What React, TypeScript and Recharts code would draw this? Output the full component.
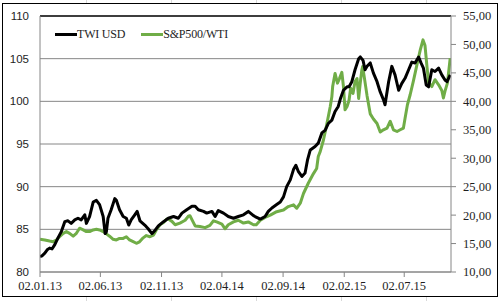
import React from "react";
import { LineChart, Line, XAxis, YAxis, CartesianGrid, ReferenceLine } from "recharts";

// Days since 02.01.2013
const twiDays = [0, 5, 12, 18, 24, 30, 37, 45, 53, 62, 70, 78, 87, 95, 103, 112, 116, 124, 133, 141, 149, 158, 163, 166, 170, 178, 187, 191, 199, 208, 216, 222, 228, 237, 243, 250, 262, 270, 280, 288, 296, 309, 321, 334, 346, 355, 367, 380, 388, 396, 409, 417, 430, 438, 446, 459, 471, 484, 496, 509, 521, 534, 538, 551, 563, 571, 580, 592, 601, 609, 617, 626, 634, 640, 646, 655, 663, 669, 676, 688, 696, 705, 713, 721, 730, 738, 746, 752, 759, 768, 773, 780, 788, 797, 801, 808, 813, 818, 826, 834, 843, 851, 859, 863, 872, 880, 888, 897, 905, 913, 922, 930, 938, 947, 953, 959, 966, 972, 980, 988, 997, 1005, 1013, 1018, 1026];
const twiValues = [81.8, 81.9, 82.2, 82.6, 82.8, 82.7, 83.2, 84.0, 84.7, 85.9, 86.0, 85.7, 86.1, 86.3, 86.1, 86.7, 85.7, 86.5, 88.2, 88.4, 87.9, 86.5, 84.5, 84.7, 86.3, 87.3, 88.6, 88.4, 87.3, 86.5, 86.3, 85.5, 86.1, 86.7, 87.1, 86.0, 85.5, 85.1, 84.5, 84.9, 85.4, 85.9, 86.3, 86.5, 86.3, 86.9, 87.3, 87.7, 87.7, 87.3, 87.1, 86.9, 87.1, 86.5, 87.2, 86.9, 86.5, 86.3, 86.5, 86.7, 87.1, 86.6, 86.5, 86.2, 86.5, 87.1, 87.5, 87.9, 88.2, 88.8, 90.0, 90.8, 92.0, 92.5, 91.8, 91.2, 91.6, 93.1, 94.3, 94.7, 95.1, 96.3, 96.6, 97.4, 97.8, 98.8, 99.4, 100.4, 101.3, 101.7, 101.7, 102.3, 103.7, 105.0, 105.2, 104.8, 103.7, 104.1, 104.5, 103.3, 102.3, 101.1, 100.2, 99.6, 102.3, 104.1, 103.1, 101.3, 102.1, 102.7, 103.7, 104.6, 104.5, 105.2, 104.5, 103.9, 101.9, 101.7, 103.7, 103.5, 103.9, 103.1, 102.5, 102.3, 103.1];

const spDays = [0, 12, 24, 33, 41, 49, 58, 66, 74, 83, 91, 99, 108, 116, 124, 133, 141, 149, 158, 166, 174, 183, 191, 199, 208, 216, 224, 233, 241, 249, 258, 266, 275, 284, 292, 300, 309, 317, 321, 330, 338, 350, 363, 371, 375, 380, 388, 400, 413, 425, 434, 442, 455, 463, 471, 484, 496, 509, 521, 534, 541, 551, 563, 576, 592, 609, 621, 634, 642, 651, 659, 671, 684, 692, 696, 701, 709, 716, 721, 726, 730, 732, 738, 744, 749, 755, 759, 763, 768, 773, 777, 783, 788, 793, 797, 801, 805, 807, 811, 818, 826, 834, 843, 851, 859, 868, 876, 884, 893, 901, 909, 913, 919, 926, 934, 943, 951, 958, 963, 968, 972, 980, 988, 997, 1005, 1009, 1013, 1019, 1026];
const spValues = [15.75, 15.63, 15.45, 15.33, 15.63, 16.2, 16.8, 17.1, 16.8, 16.3, 16.8, 17.7, 17.4, 17.1, 17.1, 17.4, 17.5, 17.4, 17.1, 16.7, 16.3, 15.75, 15.63, 15.9, 15.9, 16.2, 15.63, 15.33, 15.05, 15.3, 16.0, 16.4, 16.2, 16.5, 17.5, 18.3, 18.7, 19.3, 19.3, 18.9, 18.3, 18.6, 19.1, 19.8, 19.9, 19.2, 18.1, 18.0, 17.8, 18.2, 19.0, 18.8, 18.4, 17.6, 18.3, 18.8, 19.1, 18.6, 18.8, 18.3, 18.3, 19.1, 19.6, 20.0, 20.6, 20.9, 21.5, 21.8, 21.2, 22.1, 23.8, 25.6, 27.3, 28.2, 30.3, 31.2, 33.2, 35.5, 37.3, 39.1, 40.8, 42.6, 44.9, 43.2, 44.0, 45.1, 42.6, 38.5, 39.1, 40.2, 42.3, 41.4, 43.5, 44.0, 40.5, 43.2, 45.5, 46.1, 44.3, 41.0, 37.8, 36.9, 36.1, 34.6, 35.0, 35.3, 36.5, 35.0, 34.7, 35.0, 35.3, 37.0, 39.4, 41.2, 43.6, 46.5, 49.0, 50.8, 49.8, 46.0, 43.3, 42.6, 43.8, 42.9, 41.9, 40.6, 41.8, 43.2, 47.6];

const xTicks = [0, 151, 304, 455, 608, 761, 911];
const xTickLabels = ["02.01.13", "02.06.13", "02.11.13", "02.04.14", "02.09.14", "02.02.15", "02.07.15"];
const leftTicks = [80, 85, 90, 95, 100, 105, 110];
const rightTicks = [10, 15, 20, 25, 30, 35, 40, 45, 50, 55];
const seriesNames = ["TWI USD", "S&P500/WTI"];

const twiData = twiDays.map((d, i) => ({ d, v: twiValues[i] }));
const spData = spDays.map((d, i) => ({ d, v: spValues[i] }));

const BLACK = "#000000";
const GREEN = "#70AD47";
const AXIS = "#868686";
const TEXT = "#1e1e1e";
const SERIF = "'Liberation Serif', serif";
const SANS = "'Liberation Sans', sans-serif";

const cellCols = [86.5, 171.5, 256.5, 341.5, 426.5];

export default function App() {
  return (
    <div style={{ position: "absolute", left: 0, top: 0, width: 501, height: 301, background: "#fff" }}>
      <svg width={501} height={301} style={{ position: "absolute", left: 0, top: 0 }}>
        {cellCols.map((x) => (
          <g key={x}>
            <line x1={x} x2={x} y1={0} y2={3} stroke="#d9d9d9" strokeWidth={1} />
            <line x1={x} x2={x} y1={297} y2={301} stroke="#d9d9d9" strokeWidth={1} />
          </g>
        ))}
      </svg>
      <div
        style={{
          position: "absolute",
          left: 2,
          top: 3,
          width: 494,
          height: 292,
          border: "1.5px solid #000",
        }}
      />
      <div style={{ position: "absolute", left: 0, top: 0 }}>
        <LineChart width={501} height={301} margin={{ top: 16, right: 0, bottom: 0, left: 0 }}>
          <CartesianGrid yAxisId="left" vertical={false} stroke={AXIS} strokeWidth={1} />
          <XAxis
            dataKey="d"
            type="number"
            domain={[0, 1028]}
            ticks={xTicks}
            tickFormatter={(v: number) => xTickLabels[xTicks.indexOf(v)] ?? ""}
            height={29}
            allowDataOverflow
            axisLine={{ stroke: AXIS }}
            tickLine={{ stroke: AXIS }}
            tickSize={5}
            tickMargin={4}
            tick={{ fill: TEXT, fontFamily: SERIF, fontSize: 12.5 }}
            interval={0}
          />
          <YAxis
            yAxisId="left"
            orientation="left"
            domain={[80, 110]}
            ticks={leftTicks}
            width={40}
            axisLine={{ stroke: AXIS }}
            tickLine={false}
            tickSize={0}
            tickMargin={11}
            tick={{ fill: TEXT, fontFamily: SANS, fontSize: 11.5 }}
            interval={0}
          />
          <YAxis
            yAxisId="right"
            orientation="right"
            domain={[10, 55]}
            ticks={rightTicks}
            width={50}
            axisLine={{ stroke: AXIS }}
            tickLine={{ stroke: AXIS }}
            tickSize={5}
            tickMargin={7}
            tickFormatter={(v: number) => v.toFixed(2).replace(".", ",")}
            tick={{ fill: TEXT, fontFamily: SERIF, fontSize: 12.5 }}
            interval={0}
          />
          <ReferenceLine yAxisId="left" y={110} stroke="#111" strokeWidth={1.5} />
          <Line
            yAxisId="right"
            data={spData}
            dataKey="v"
            name={seriesNames[1]}
            stroke={GREEN}
            strokeWidth={3}
            dot={false}
            type="linear"
            strokeLinejoin="round"
            isAnimationActive={false}
          />
          <Line
            yAxisId="left"
            data={twiData}
            dataKey="v"
            name={seriesNames[0]}
            stroke={BLACK}
            strokeWidth={3}
            dot={false}
            type="linear"
            strokeLinejoin="round"
            isAnimationActive={false}
          />
        </LineChart>
      </div>
      <div
        style={{
          position: "absolute",
          left: 55,
          top: 26,
          height: 16,
          display: "flex",
          alignItems: "center",
          fontFamily: SERIF,
          fontSize: 12,
          color: TEXT,
          whiteSpace: "nowrap",
        }}
      >
        <span style={{ display: "inline-block", width: 22, height: 3, background: BLACK }} />
        <span style={{ marginLeft: 0, letterSpacing: -0.2 }}>{seriesNames[0]}</span>
        <span style={{ display: "inline-block", width: 22, height: 3, background: GREEN, marginLeft: 16 }} />
        <span style={{ letterSpacing: -0.2 }}>{seriesNames[1]}</span>
      </div>
    </div>
  );
}
